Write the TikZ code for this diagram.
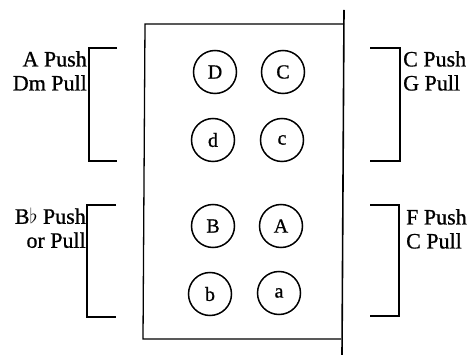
\documentclass[tikz,border=0pt]{standalone}
\usepackage{fontspec}
\setmainfont{Liberation Serif}
\newfontfamily\heavyserif{Liberation Serif}[FakeBold=0.8]
\begin{document}
\begin{tikzpicture}[x=1pt,y=-1pt,
  frame/.style={line width=1.3pt},
  key/.style={circle,draw,line width=1.5pt,minimum size=43pt,inner sep=0pt,
    font=\heavyserif\fontsize{20}{22}\selectfont},
  lbl/.style={inner sep=0pt,font=\heavyserif\fontsize{22}{24}\selectfont},
  brk/.style={line width=1.2pt}]
\useasboundingbox (0,0) rectangle (474,355);
\fill[white] (0,0) rectangle (474,355);

% casing outline and the long right edge
\draw[frame] (344,24) -- (145,24) -- (143,339) -- (341,339);
\draw[frame,line width=1.6pt] (344,10) -- (342,355);

% buttons
\node[key] (kD) at (215,72) {D};
\node[key] (kC) at (283,72) {C};
\node[key] (kd) at (213,140) {d};
\node[key] (kc) at (282,140) {c};
\node[key] (kB) at (213,226) {B};
\node[key] (kA) at (281,226) {A};
\node[key] (kb) at (210,294) {b};
\node[key] (ka) at (279,293) {a};

% brackets
\draw[brk] (117,48) -- (89,48) -- (89,161) -- (117,161);
\draw[brk] (116,205) -- (87,205) -- (87,317) -- (116,317);
\draw[brk] (370,48) -- (400,48) -- (400,161) -- (370,161);
\draw[brk] (370,205) -- (399,205) -- (399,316) -- (370,316);

% bracket labels
\node[lbl,anchor=north east,align=right] (ltop) at (87,51) {A Push\\Dm Pull};
\node[lbl,anchor=north east,align=right] (lbot) at (86,208) {B$\flat$ Push\\or Pull};
\node[lbl,anchor=north west,align=left] (rtop) at (403,51) {C Push\\G Pull};
\node[lbl,anchor=north west,align=left] (rbot) at (406,209) {F Push\\C Pull};
\end{tikzpicture}
\end{document}
